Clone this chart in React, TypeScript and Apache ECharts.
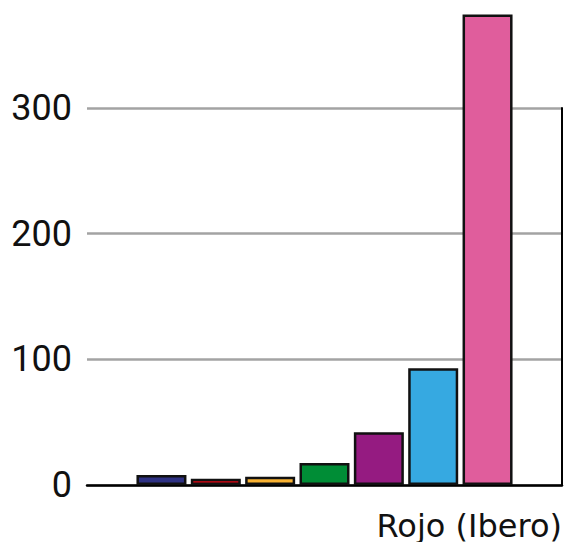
import React, { useEffect, useRef } from "react";
import * as echarts from "echarts";

const categories = ["Rojo (Ibero)"];
const seriesNames = ["Serie 1", "Serie 2", "Serie 3", "Serie 4", "Serie 5", "Serie 6", "Serie 7"];
const seriesValues = [8, 5, 6.5, 17.5, 42, 93, 374.5];
const seriesColors = ["#2e3183", "#e30613", "#f9b233", "#008d36", "#951b81", "#36a9e1", "#e05d9c"];
const yTicks = [0, 100, 200, 300];

export default function App() {
  const ref = useRef<HTMLDivElement>(null);
  useEffect(() => {
    if (!ref.current) return;
    const chart = echarts.init(ref.current, null, { renderer: "svg" });
    chart.setOption({
      animation: false,
      grid: { left: 87, right: 12, top: 108, bottom: 65, containLabel: false },
      xAxis: {
        type: "category",
        data: categories,
        axisLine: { show: true, lineStyle: { color: "#000", width: 2.5 } },
        axisTick: { show: false },
        axisLabel: { show: false },
        name: categories[0],
        nameLocation: "end",
        nameGap: 0,
        nameTextStyle: {
          fontFamily: "DejaVu Sans",
          fontSize: 32,
          color: "#111",
          align: "right",
          verticalAlign: "top",
          padding: [25, 0, 0, 0],
        },
      },
      yAxis: [
        {
          type: "value",
          min: yTicks[0],
          max: yTicks[yTicks.length - 1],
          interval: 100,
          axisLine: { show: false },
          axisTick: { show: false },
          axisLabel: {
            fontFamily: "Roboto",
            fontSize: 36,
            color: "#111",
            margin: 15,
          },
          splitLine: { show: true, lineStyle: { color: "#a3a3a3", width: 2.5 } },
        },
        {
          type: "value",
          position: "right",
          min: yTicks[0],
          max: yTicks[yTicks.length - 1],
          interval: 100,
          axisLine: { show: true, lineStyle: { color: "#000", width: 2 } },
          axisTick: { show: false },
          axisLabel: { show: false },
          splitLine: { show: false },
        },
      ],
      series: seriesNames.map((name, i) => ({
        type: "bar",
        name,
        data: [seriesValues[i]],
        yAxisIndex: 0,
        barWidth: 50,
        barGap: "8.7%",
        clip: false,
        itemStyle: {
          color: seriesColors[i],
          borderColor: "#111",
          borderWidth: 2.5,
        },
      })),
    });
    return () => chart.dispose();
  }, []);
  return <div ref={ref} style={{ width: 574, height: 550, margin: -8 }} />;
}
